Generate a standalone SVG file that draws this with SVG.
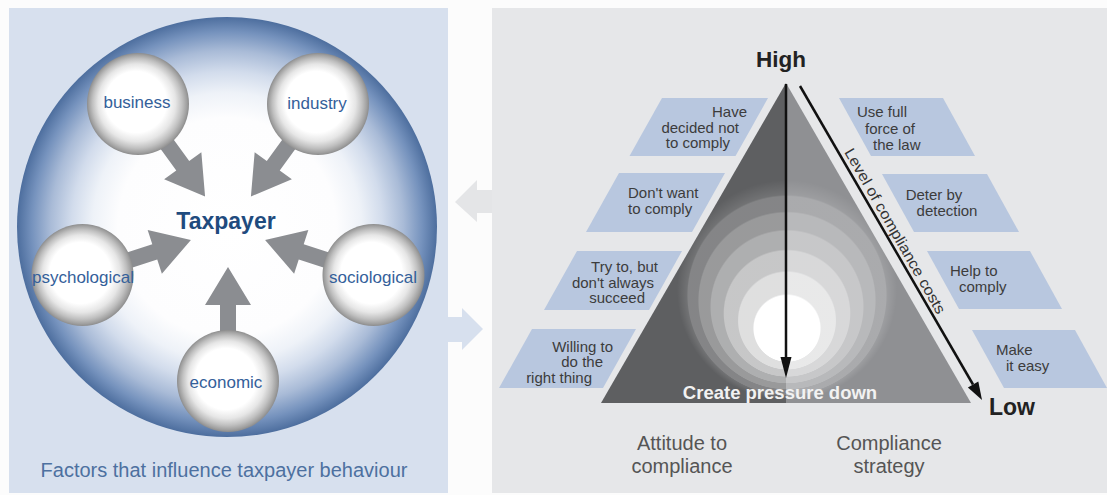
<svg xmlns="http://www.w3.org/2000/svg" width="1107" height="495" viewBox="0 0 1107 495">
<defs>
<style>
.lbl{font-family:"Liberation Sans",Arial,sans-serif;font-size:17px;fill:#34609a;text-anchor:middle}
.box{fill:#b8c7df}
.bt{font-family:"Liberation Sans",Arial,sans-serif;font-size:15px;fill:#3c3c3c}
.big{font-family:"Liberation Sans",Arial,sans-serif;font-weight:bold}
.cap{font-family:"Liberation Sans",Arial,sans-serif;font-size:20px;fill:#555;text-anchor:middle}
.garrow{fill:#8b8d91}
</style>
<radialGradient id="bigG" cx="0.5" cy="0.5" r="0.5">
<stop offset="0" stop-color="#ffffff"/>
<stop offset="0.52" stop-color="#fdfdfe"/>
<stop offset="0.64" stop-color="#eef2f8"/>
<stop offset="0.74" stop-color="#d2dcec"/>
<stop offset="0.84" stop-color="#a9bbd7"/>
<stop offset="0.93" stop-color="#7592bd"/>
<stop offset="1" stop-color="#4d6e9e"/>
</radialGradient>
<radialGradient id="smG" cx="0.5" cy="0.5" r="0.5" fx="0.45" fy="0.45">
<stop offset="0" stop-color="#ffffff"/>
<stop offset="0.6" stop-color="#ffffff"/>
<stop offset="0.76" stop-color="#e6e6e6"/>
<stop offset="0.88" stop-color="#c0c0c0"/>
<stop offset="0.96" stop-color="#a0a0a0"/>
<stop offset="1" stop-color="#8c8c8c"/>
</radialGradient>
<radialGradient id="triG" gradientUnits="userSpaceOnUse" cx="787" cy="290" r="110" fx="787" fy="345">
<stop offset="0" stop-color="#fff" stop-opacity="1"/>
<stop offset="0.3" stop-color="#fff" stop-opacity="1"/>
<stop offset="0.31" stop-color="#fff" stop-opacity="0.8"/>
<stop offset="0.44" stop-color="#fff" stop-opacity="0.8"/>
<stop offset="0.45" stop-color="#fff" stop-opacity="0.65"/>
<stop offset="0.57" stop-color="#fff" stop-opacity="0.65"/>
<stop offset="0.58" stop-color="#fff" stop-opacity="0.5"/>
<stop offset="0.69" stop-color="#fff" stop-opacity="0.5"/>
<stop offset="0.7" stop-color="#fff" stop-opacity="0.37"/>
<stop offset="0.8" stop-color="#fff" stop-opacity="0.37"/>
<stop offset="0.81" stop-color="#fff" stop-opacity="0.24"/>
<stop offset="0.9" stop-color="#fff" stop-opacity="0.24"/>
<stop offset="0.91" stop-color="#fff" stop-opacity="0.12"/>
<stop offset="1" stop-color="#fff" stop-opacity="0"/>
</radialGradient>
<clipPath id="triClip"><polygon points="786,83 601,403 971,403"/></clipPath>
<path id="garr" d="M0,0 L23,38 L8,38 L8,72 L-8,72 L-8,38 L-23,38 Z"/>
</defs>

<rect width="1107" height="495" fill="#fcfcfc"/>
<rect x="9" y="8" width="439" height="485" fill="#d7e0ee"/>
<rect x="492" y="8" width="615" height="485" fill="#e6e7e9"/>

<g id="between-arrows">
<polygon points="455,202 477,180 477,190 492,190 492,213 477,213 477,222" fill="#e4e5e7"/>
<polygon points="448,317 462,317 462,308 483,329 462,350 462,342 448,342" fill="#d7e0ee"/>
</g>

<g id="taxpayer-circle">
<circle cx="227" cy="227" r="210" fill="url(#bigG)"/>
<text class="big" x="226" y="229" font-size="23" fill="#1f4b7e" text-anchor="middle">Taxpayer</text>
</g>

<g id="connectors">
<use href="#garr" class="garrow" transform="rotate(0 228 228) translate(228 267)"/>
<use href="#garr" class="garrow" transform="rotate(-72 228 228) translate(228 267)"/>
<use href="#garr" class="garrow" transform="rotate(-144 228 228) translate(228 267)"/>
<use href="#garr" class="garrow" transform="rotate(72 228 228) translate(228 267)"/>
<use href="#garr" class="garrow" transform="rotate(144 228 228) translate(228 267)"/>
</g>

<g id="business"><circle cx="138" cy="104" r="51" fill="url(#smG)"/><text class="lbl" x="137" y="108">business</text></g>
<g id="industry"><circle cx="318" cy="104" r="51" fill="url(#smG)"/><text class="lbl" x="317" y="109">industry</text></g>
<g id="psychological"><circle cx="82.5" cy="275" r="51" fill="url(#smG)"/><text class="lbl" x="83" y="283">psychological</text></g>
<g id="sociological"><circle cx="373.5" cy="275" r="51" fill="url(#smG)"/><text class="lbl" x="373" y="283">sociological</text></g>
<g id="economic"><circle cx="228" cy="381" r="51" fill="url(#smG)"/><text class="lbl" x="226" y="388">economic</text></g>

<text x="224" y="477" font-family="Liberation Sans, Arial, sans-serif" font-size="20" fill="#4d70a0" text-anchor="middle">Factors that influence taxpayer behaviour</text>

<g id="pyramid">
<polygon points="786,83 601,403 786,403" fill="#5e5f61"/>
<polygon points="786,83 786,403 971,403" fill="#8f9093"/>
<rect x="600" y="170" width="372" height="234" fill="url(#triG)" clip-path="url(#triClip)"/>
<text class="big" x="780" y="399" font-size="18.5" fill="#f2f2f2" text-anchor="middle">Create pressure down</text>
</g>

<g id="attitude-boxes">
<polygon class="box" points="662,98 768,98 735.5,156 629.5,156"/>
<text class="bt" text-anchor="end"><tspan x="747" y="117">Have</tspan><tspan x="739" y="133">decided not</tspan><tspan x="730" y="148">to comply</tspan></text>
<polygon class="box" points="619,173 725,173 692,232 586,232"/>
<text class="bt"><tspan x="628" y="198">Don't want</tspan><tspan x="628" y="214">to comply</tspan></text>
<polygon class="box" points="577,251 682,251 649,310 544,310"/>
<text class="bt" text-anchor="end"><tspan x="658" y="272">Try to, but</tspan><tspan x="654" y="288">don't always</tspan><tspan x="645" y="303">succeed</tspan></text>
<polygon class="box" points="532,329 636,329 603,388 499,388"/>
<text class="bt" text-anchor="end"><tspan x="613" y="352">Willing to</tspan><tspan x="603" y="367">do the</tspan><tspan x="592" y="383">right thing</tspan></text>
</g>

<g id="strategy-boxes">
<polygon class="box" points="839,98 943,98 975,156 871,156"/>
<text class="bt"><tspan x="857" y="117">Use full</tspan><tspan x="865" y="134">force of</tspan><tspan x="873" y="150">the law</tspan></text>
<polygon class="box" points="882,174 987,174 1019,232 914,232"/>
<text class="bt" text-anchor="middle"><tspan x="934" y="200">Deter by</tspan><tspan x="947" y="216">detection</tspan></text>
<polygon class="box" points="927,251 1030,251 1062,309 959,309"/>
<text class="bt"><tspan x="950" y="276">Help to</tspan><tspan x="959" y="292">comply</tspan></text>
<polygon class="box" points="972,330 1075,330 1107,388 1004,388"/>
<text class="bt"><tspan x="996" y="355">Make</tspan><tspan x="1006" y="371">it easy</tspan></text>
</g>

<g id="pyramid-arrows">
<line x1="786" y1="84" x2="786" y2="360" stroke="#111" stroke-width="2.5"/>
<polygon points="780.5,357 791.5,357 786,378" fill="#111"/>
<line x1="800" y1="86" x2="973" y2="384.5" stroke="#111" stroke-width="2.5"/>
<polygon points="982,400 978.3,381.4 967.9,387.4" fill="#111"/>
<text transform="translate(844 152) rotate(60.2)" font-family="Liberation Sans, Arial, sans-serif" font-size="15" fill="#333" textLength="188" lengthAdjust="spacingAndGlyphs">Level of compliance costs</text>
</g>

<text class="big" x="781" y="67" font-size="22.5" fill="#222" text-anchor="middle">High</text>
<text class="big" x="1012" y="415" font-size="23" fill="#222" text-anchor="middle">Low</text>

<text class="cap"><tspan x="682" y="450">Attitude to</tspan><tspan x="682" y="473">compliance</tspan></text>
<text class="cap"><tspan x="889" y="450">Compliance</tspan><tspan x="889" y="473">strategy</tspan></text>
</svg>
